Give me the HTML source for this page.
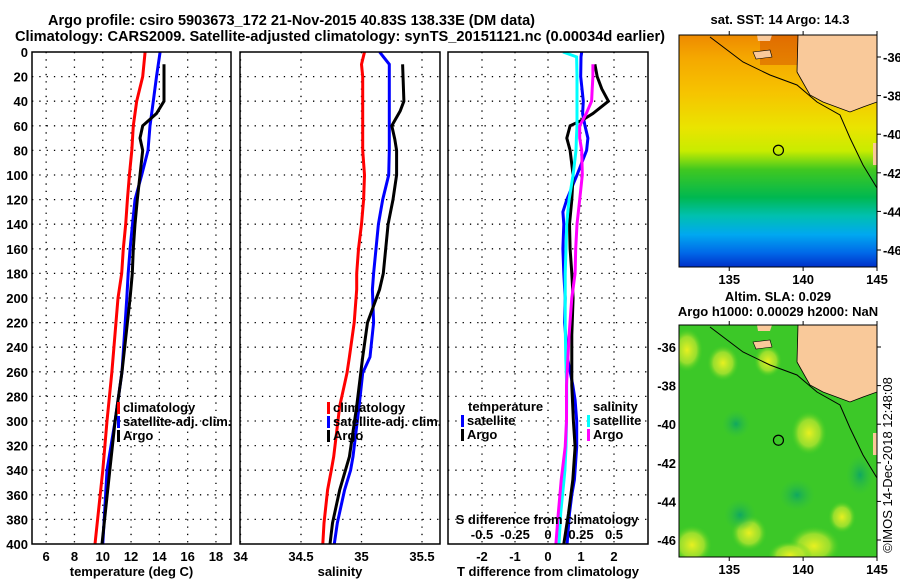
<!DOCTYPE html>
<html><head><meta charset="utf-8"><style>
html,body{margin:0;padding:0;background:#fff;}
svg{display:block;font-family:"Liberation Sans",sans-serif;}
.t{font-size:13px;font-weight:bold;}
</style></head><body>
<svg id="c" width="900" height="580" viewBox="0 0 900 580" xmlns="http://www.w3.org/2000/svg">
<defs>
<linearGradient id="sst" x1="0" y1="0" x2="0" y2="1">
<stop offset="0" stop-color="#ee8a00"/><stop offset="0.1" stop-color="#f5a800"/>
<stop offset="0.25" stop-color="#f6c400"/><stop offset="0.4" stop-color="#eae400"/>
<stop offset="0.5" stop-color="#c8ec00"/><stop offset="0.58" stop-color="#40c820"/>
<stop offset="0.7" stop-color="#00b850"/><stop offset="0.78" stop-color="#00c0b0"/>
<stop offset="0.86" stop-color="#00a8f0"/><stop offset="0.94" stop-color="#0068e8"/>
<stop offset="1" stop-color="#0030c8"/></linearGradient>
<radialGradient id="blob"><stop offset="0" stop-color="#e8f020"/><stop offset="0.6" stop-color="#c0e830" stop-opacity="0.7"/><stop offset="1" stop-color="#40d020" stop-opacity="0"/></radialGradient>
<radialGradient id="dblob"><stop offset="0" stop-color="#10a860"/><stop offset="1" stop-color="#30c040" stop-opacity="0"/></radialGradient>
<clipPath id="m1c"><rect x="679" y="35" width="198" height="232"/></clipPath>
<clipPath id="m2c"><rect x="679" y="325" width="198" height="232"/></clipPath>
<clipPath id="p1c"><rect x="32" y="52" width="199" height="492"/></clipPath>
<clipPath id="p2c"><rect x="240" y="52" width="200" height="492"/></clipPath>
<clipPath id="p3c"><rect x="448" y="52" width="200" height="492"/></clipPath>
</defs>
<text x="48" y="25" font-size="14.5" font-weight="bold" textLength="487" lengthAdjust="spacingAndGlyphs">Argo profile: csiro 5903673_172 21-Nov-2015 40.83S 138.33E (DM data)</text>
<text x="15" y="41" font-size="14.5" font-weight="bold" textLength="650" lengthAdjust="spacingAndGlyphs">Climatology: CARS2009. Satellite-adjusted climatology: synTS_20151121.nc (0.00034d earlier)</text>
<g id="maps"></g>
<g id="plots"></g>
</svg>
<script>
// ---- data (depth in m) ----
const depthsClim = [0,20,40,60,80,100,120,140,160,180,200,260,300,340,400];
const tempClim   = [12.99,12.82,12.4,12.16,12.05,11.88,11.74,11.62,11.45,11.34,11.08,10.65,10.3,10.0,9.45];
const tempSat    = [14.05,13.8,13.57,13.34,13.2,12.75,12.28,12.1,11.93,11.8,11.7,11.36,10.87,10.3,10.0];
const depthsArgo = [10,40,50,60,70,80,100,120,140,160,180,200,260,300,340,400];
const tempArgo   = [14.33,14.33,13.8,12.82,12.63,12.82,12.63,12.44,12.28,12.16,12.09,11.93,11.36,10.87,10.5,9.95];

const depthsS    = [0,10,20,60,80,100,120,140,160,180,193,220,248,261,288,329,340,356,383,400];
const salClim    = [35.025,35.0,35.01,35.01,35.01,35.025,35.017,35.0,34.975,34.96,34.96,34.94,34.9,34.88,34.82,34.77,34.75,34.72,34.69,34.68];
const salSat     = [35.15,35.23,35.23,35.23,35.23,35.225,35.175,35.14,35.12,35.1,35.09,35.1,35.07,35.01,34.98,34.93,34.91,34.86,34.8,34.775];
const depthsSA   = [10,40,48,60,71,80,100,120,140,160,180,193,220,248,288,329,356,383,400];
const salArgo    = [35.34,35.35,35.32,35.25,35.275,35.29,35.29,35.26,35.22,35.2,35.18,35.15,35.05,35.01,34.96,34.9,34.82,34.76,34.74];

const depthsD    = [0,4,20,40,50,60,70,80,100,120,130,140,160,180,200,220,250,271,283,300,321,340,348,360,375,400];
const tDiffSat   = [1.02,1.0,0.99,1.07,1.05,1.12,1.21,1.17,0.88,0.57,0.45,0.48,0.45,0.48,0.52,0.5,0.6,0.75,0.82,0.87,0.87,0.82,0.8,0.72,0.65,0.58];
const sDiffSat   = [0.114,0.217,0.22,0.22,0.22,0.22,0.215,0.212,0.19,0.16,0.15,0.142,0.136,0.13,0.13,0.13,0.135,0.142,0.142,0.14,0.136,0.128,0.121,0.11,0.096,0.083];
const depthsDA   = [10,20,30,40,50,55,60,70,80,100,120,140,160,180,200,230,271,300,321,348,375,400];
const tDiffArgo  = [1.42,1.49,1.63,1.83,1.36,1.06,0.67,0.57,0.67,0.76,0.72,0.65,0.67,0.72,0.76,0.72,0.72,0.77,0.82,0.75,0.62,0.48];
const sDiffArgo  = [0.34,0.34,0.335,0.33,0.29,0.265,0.24,0.24,0.255,0.26,0.24,0.22,0.21,0.205,0.18,0.16,0.14,0.14,0.13,0.10,0.078,0.06];

const depthTicks = [0,20,40,60,80,100,120,140,160,180,200,220,240,260,280,300,320,340,360,380,400];
const tempTicks  = [6,8,10,12,14,16,18];
const salTicks   = [34,34.5,35,35.5];
const salTickLabels = ["34","34.5","35","35.5"];
const tdTicks    = [-2,-1,0,1,2];
const sdTicks    = [-0.5,-0.25,0,0.25,0.5];
const sdTickLabels = ["-0.5","-0.25","0","0.25","0.5"];
const lonTicks   = [135,140,145];
const latTicks   = [-36,-38,-40,-42,-44,-46];
const argoLon = 138.33, argoLat = -40.83;

const NS="http://www.w3.org/2000/svg";
const plots=document.getElementById('plots'), maps=document.getElementById('maps');
function el(tag,attrs,parent,txt){const e=document.createElementNS(NS,tag);for(const k in attrs)e.setAttribute(k,attrs[k]);if(txt!==undefined)e.textContent=txt;parent.appendChild(e);return e;}
const Y0=52,Y1=544;
const yD=d=>Y0+d*(Y1-Y0)/400;
const xT=t=>32+(t-5)*14.15;
const xS=s=>240.5+(s-34)*121;
const xTD=v=>548+v*33;
const xSD=v=>548+v*132;

function panel(x0,x1,name,clip,xticks,xfn,xlabels,title){
  const g=el('g',{},plots);
  
  
  xticks.forEach(t=>{const gl=el('line',{x1:xfn(t),x2:xfn(t),y1:Y0,y2:Y1,stroke:'#000','stroke-width':1.3,'stroke-dasharray':'1.3 6'},g);
    });
  depthTicks.slice(1,-1).forEach(d=>{const gl=el('line',{x1:x0,x2:x1,y1:yD(d),y2:yD(d),stroke:'#000','stroke-width':1.3,'stroke-dasharray':'1.3 6'},g);
    });
  if(xlabels){xticks.forEach((t,i)=>{const tx=el('text',{x:xfn(t),y:561,'text-anchor':'middle',class:'t'},g,xlabels[i]);
    });}
  const tt=el('text',{x:(x0+x1)/2,y:576,'text-anchor':'middle',class:'t'},g,title);
  
  return g;
}
function line(g,xs,ds,xfn,color,name,clip,w){
  const pts=xs.map((v,i)=>xfn(v).toFixed(1)+','+yD(ds[i]).toFixed(1)).join(' ');
  const p=el('polyline',{points:pts,fill:'none',stroke:color,'stroke-width':w||3,'clip-path':'url(#'+clip+')'},g);
  
  
}
function frame(g,x0,x1){const r=el('rect',{x:x0,y:Y0,width:x1-x0,height:Y1-Y0,fill:'none',stroke:'#000','stroke-width':1.5},g);
  }
function legend(g,x,y,items){items.forEach((it,i)=>{
  const m=el('rect',{x:x,y:y+i*14-10,width:3,height:12,fill:it[1]},g);
  
  const t=el('text',{x:x+6,y:y+i*14,class:'t'},g,it[0]);
  });}

depthTicks.forEach(d=>{const t=el('text',{x:28,y:yD(d)+5,'text-anchor':'end',class:'t'},plots,String(d));
  });

const g1=panel(32,231,'temperature-panel','p1c',tempTicks,xT,tempTicks.map(String),'temperature (deg C)');
line(g1,tempClim,depthsClim,xT,'#f00','temp-climatology-line','p1c');
line(g1,tempSat,depthsClim,xT,'#00f','temp-satellite-line','p1c');
line(g1,tempArgo,depthsArgo,xT,'#000','temp-argo-line','p1c');
legend(g1,117,412,[['climatology','#f00'],['satellite-adj. clim.','#00f'],['Argo','#000']]);
frame(g1,32,231);

const g2=panel(240,440,'salinity-panel','p2c',salTicks,xS,salTickLabels,'salinity');
line(g2,salClim,depthsS,xS,'#f00','sal-climatology-line','p2c');
line(g2,salSat,depthsS,xS,'#00f','sal-satellite-line','p2c');
line(g2,salArgo,depthsSA,xS,'#000','sal-argo-line','p2c');
legend(g2,327,412,[['climatology','#f00'],['satellite-adj. clim.','#00f'],['Argo','#000']]);
frame(g2,240,440);

const g3=panel(448,648,'difference-panel','p3c',tdTicks,xTD,tdTicks.map(String),'T difference from climatology');
line(g3,tDiffSat,depthsD,xTD,'#00f','tdiff-satellite-line','p3c');
line(g3,tDiffArgo,depthsDA,xTD,'#000','tdiff-argo-line','p3c');
line(g3,sDiffSat,depthsD,xSD,'#0ff','sdiff-satellite-line','p3c');
line(g3,sDiffArgo,depthsDA,xSD,'#f0f','sdiff-argo-line','p3c');
const lt=el('text',{x:468,y:411,class:'t'},g3,'temperature');
legend(g3,461,425,[['satellite','#00f'],['Argo','#000']]);
const ls=el('text',{x:593,y:411,class:'t'},g3,'salinity');
legend(g3,587,425,[['satellite','#0ff'],['Argo','#f0f']]);
const sdt=el('text',{x:547,y:524,'text-anchor':'middle',class:'t'},g3,'S difference from climatology');

sdTicks.forEach((v,i)=>{const t=el('text',{x:xSD(v),y:539,'text-anchor':'middle',class:'t'},g3,sdTickLabels[i]);
  });
frame(g3,448,648);

function mapPanel(top,kind){
  const MX0=679,MX1=877,H=232;
  const xL=lon=>MX0+(lon-131.6)*(MX1-MX0)/(145-131.6);
  const yL=lat=>top+(-34.86-lat)*19.3;
  const g=el('g',{},maps);
  
  
  const cg=el('g',{'clip-path':'url(#'+(kind==='sst'?'m1c':'m2c')+')'},g);
  if(kind==='sst'){
    el('rect',{x:MX0,y:top,width:MX1-MX0,height:H,fill:'url(#sst)'},cg);
    el('rect',{x:760,y:top,width:117,height:30,fill:'#d04a00',opacity:0.45},cg);
  } else {
    el('rect',{x:MX0,y:top,width:MX1-MX0,height:H,fill:'#3cc828'},cg);
    [[687,25,16,22],[723,38,16,18],[768,36,14,16],[809,108,18,22],[749,208,18,18],[814,221,26,20],[842,192,14,16],[692,220,20,20],[790,230,22,14]]
      .forEach(b=>el('ellipse',{cx:b[0],cy:top+b[1],rx:b[2],ry:b[3],fill:'url(#blob)'},cg));
    [[736,99,14,14],[797,170,18,16],[860,150,14,20],[740,190,16,16]]
      .forEach(b=>el('ellipse',{cx:b[0],cy:top+b[1],rx:b[2],ry:b[3],fill:'url(#dblob)'},cg));
  }
  const land=[[798,0],[797,37],[810,60],[823,67],[850,77],[863,72],[877,67],[877,0]].map(p=>p[0]+','+(top+p[1])).join(' ');
  const lp=el('polygon',{points:land,fill:'#f9c99a',stroke:'#000','stroke-width':0.8},cg);
  
  el('polygon',{points:[[753,17],[770,15],[772,22],[756,24]].map(p=>p[0]+','+(top+p[1])).join(' '),fill:'#f9c99a',stroke:'#000','stroke-width':0.6},cg);
  el('polygon',{points:[[757,0],[772,0],[770,6],[758,6]].map(p=>p[0]+','+(top+p[1])).join(' '),fill:'#f9c99a'},cg);
  el('rect',{x:873,y:top+108,width:4,height:22,fill:'#f9c99a'},cg);
  const cont=[[710,2],[743,27],[770,40],[797,50],[817,67],[840,80],[850,103],[863,130],[877,153]].map(p=>p[0]+','+(top+p[1])).join(' ');
  const cl=el('polyline',{points:cont,fill:'none',stroke:'#000','stroke-width':1},cg);
  
  const c=el('circle',{cx:xL(argoLon),cy:yL(argoLat),r:5,fill:'none',stroke:'#000','stroke-width':1.2},g);
  
  const fr=el('rect',{x:MX0,y:top,width:MX1-MX0,height:H,fill:'none',stroke:'#000','stroke-width':1},g);
  
  latTicks.forEach(l=>{el('line',{x1:MX1,x2:MX1+4,y1:yL(l),y2:yL(l),stroke:'#000'},g);
    const t=kind==='sst'
      ? el('text',{x:883,y:yL(l)+5,class:'t'},g,String(l))
      : el('text',{x:676,y:yL(l)+5,'text-anchor':'end',class:'t'},g,String(l));
    });
  lonTicks.forEach(l=>{el('line',{x1:xL(l),x2:xL(l),y1:top+H,y2:top+H+4,stroke:'#000'},g);
    el('line',{x1:xL(l),x2:xL(l),y1:top,y2:top-4,stroke:'#000'},g);
    const t=el('text',{x:xL(l),y:top+H+17,'text-anchor':'middle',class:'t'},g,String(l));
    });
}
mapPanel(35,'sst');
mapPanel(325,'sla');
const mt=el('text',{x:780,y:24,'text-anchor':'middle',class:'t'},maps,'sat. SST: 14 Argo: 14.3');

const at=el('text',{x:778,y:301,'text-anchor':'middle',class:'t'},maps,'Altim. SLA: 0.029');

const at2=el('text',{x:778,y:316,'text-anchor':'middle',class:'t'},maps,'Argo h1000: 0.00029 h2000: NaN');

const cr=el('text',{x:0,y:0,'text-anchor':'middle','font-size':'13',transform:'translate(892,465) rotate(-90)'},maps,'©IMOS 14-Dec-2018 12:48:08');

</script>
</body></html>
